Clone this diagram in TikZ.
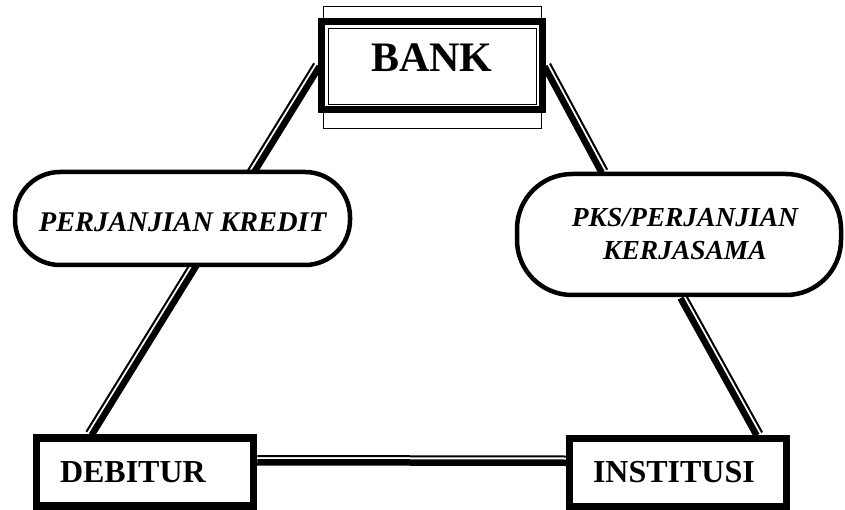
\documentclass[tikz,border=0pt]{standalone}
\usepackage{fontspec}
\setmainfont{Liberation Serif}
\usetikzlibrary{calc,backgrounds}
\tikzset{thinline/.style={line width=2pt}, thickline/.style={line width=6.5pt},
  box/.style={draw, line width=7.5pt, fill=white, align=left, text width=170pt, inner xsep=23.5pt, minimum height=68pt, text height=21pt, text depth=0pt, font=\fontsize{32}{38}\selectfont\bfseries},
  oval/.style={draw, line width=4.5pt, fill=white, align=center, font=\bfseries\itshape}}
\newcommand{\dline}[2]{%
  \draw[thinline] ($(#1)!4.25pt!90:(#2)$) -- ($(#2)!4.25pt!-90:(#1)$);
  \draw[thickline] ($(#1)!-2pt!90:(#2)$) -- ($(#2)!-2pt!-90:(#1)$);
}

\begin{document}
\begin{tikzpicture}[x=1pt,y=-1pt]
\useasboundingbox (0,0) rectangle (845,510);
\node[draw, line width=7.5pt, fill=white, minimum width=221pt, minimum height=88pt, text height=28pt, text depth=16pt, font=\fontsize{42}{50}\selectfont\bfseries] (bank) at (432,65.5) {BANK};
\draw[line width=1pt] ($(bank.north west)+(6,-11)$) rectangle ($(bank.south east)+(-5,15)$);
\draw[line width=1pt] ($(bank.north west)+(11,11)$) rectangle ($(bank.south east)+(-10,-9)$);
\node[oval, rounded corners=45pt, minimum width=335pt, minimum height=93pt, text height=26.5pt, text depth=0pt, font=\fontsize{28.5}{32}\selectfont\bfseries\itshape] (pk) at (182.5,218.5) {PERJANJIAN KREDIT};
\node[oval, rounded corners=55pt, minimum width=324pt, minimum height=121pt, font=\fontsize{27.5}{33}\selectfont\bfseries\itshape] (pks) at (679,234.5) {\hspace*{12pt}PKS/PERJANJIAN\\\hspace*{12pt}KERJASAMA};
\node[box] (debitur) at (145,471.75) {DEBITUR};
\node[box] (inst) at (678,472.25) {INSTITUSI};
\coordinate (dtop) at ($(debitur.north west)!0.255!(debitur.north east)$);
\coordinate (ptop) at ($(pks.north west)!0.27!(pks.north east)$);
\coordinate (pbot) at ($(pks.south west)!0.51!(pks.south east)$);
\coordinate (itop) at ($(inst.north west)!0.858!(inst.north east)$);
\coordinate (dr) at ($(debitur.east)+(0,-11.5)$);
\coordinate (il) at ($(inst.west)+(0,-11.5)$);
\begin{scope}[on background layer]
\dline{dtop}{bank.west}
\dline{bank.east}{ptop}
\dline{pbot}{itop}
\dline{dr}{il}
\end{scope}
\end{tikzpicture}
\end{document}
